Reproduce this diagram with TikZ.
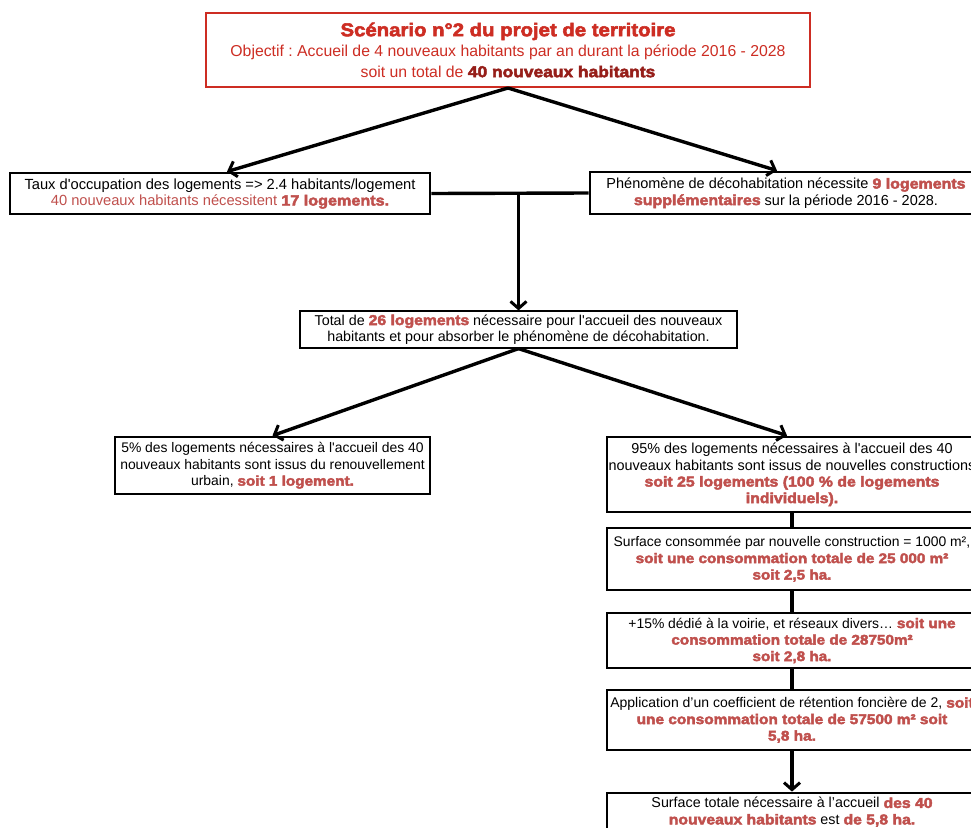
\documentclass[tikz,border=0pt]{standalone}
\usepackage{fontspec}
\setmainfont{Liberation Sans}
\newfontfamily\basefont{Liberation Sans}
\newfontfamily\blk[FakeStretch=1.1,FakeBold=3]{Liberation Sans Bold}
\usetikzlibrary{arrows.meta}
\definecolor{tred}{RGB}{205,45,35}
\definecolor{dred}{RGB}{150,30,25}
\definecolor{hred}{RGB}{192,80,77}
\newcommand{\hl}[1]{{\blk\color{hred}#1}}
\newcommand{\fs}[1]{\basefont\fontsize{#1}{16.5}\selectfont\frenchspacing}
\begin{document}
\begin{tikzpicture}[x=1pt,y=-1pt,
  box/.style={draw=black,line width=2.8pt,align=center,inner sep=0pt},
  conn/.style={line width=3.4pt},
  arr/.style={conn,-{Straight Barb[length=7pt,width=16pt,line width=3pt]}}]
\clip (0,0) rectangle (971,827);
\fill[white] (0,0) rectangle (971,827);
% title
\node[box,draw=tred,line width=2pt,minimum width=604pt,minimum height=74pt,font={\basefont\fontsize{15.8}{20.5}\selectfont\frenchspacing},text=tred] (T) at (508,50)
  {{\blk\fontsize{18.5}{20.5}\selectfont Scénario n°2 du projet de territoire}\\
   Objectif : Accueil de 4 nouveaux habitants par an durant la période 2016 - 2028\\
   soit un total de {\blk\color{dred}40 nouveaux habitants}};
% level 2
\node[box,minimum width=420pt,minimum height=41pt,font=\fs{14.7}] (A) at (220,193.5)
  {Taux d'occupation des logements => 2.4 habitants/logement\\
   {\color{hred}40 nouveaux habitants nécessitent }\hl{17 logements.}};
\node[box,minimum width=392pt,minimum height=42pt,font=\fs{14.5}] (B) at (786,193)
  {Phénomène de décohabitation nécessite \hl{9 logements}\\
   \hl{supplémentaires} sur la période 2016 - 2028.};
% level 3
\node[box,line width=1.2pt,minimum width=437pt,minimum height=37pt,font=\fs{14.3}] (C) at (518.5,329.5)
  {Total de \hl{26 logements} nécessaire pour l'accueil des nouveaux\\
   habitants et pour absorber le phénomène de décohabitation.};
% level 4
\node[box,minimum width=315pt,minimum height=57pt,font=\fs{13.9}] (D) at (272.5,465.5)
  {5\% des logements nécessaires à l'accueil des 40\\
   nouveaux habitants sont issus du renouvellement\\
   urbain, \hl{soit 1 logement.}};
\node[box,minimum width=370pt,minimum height=75pt,font=\fs{14.4}] (E) at (792,474.5)
  {95\% des logements nécessaires à l'accueil des 40\\
   nouveaux habitants sont issus de nouvelles constructions\\
   \hl{soit 25 logements (100 \% de logements}\\
   \hl{individuels).}};
\node[box,minimum width=370pt,minimum height=62pt,font=\fs{13.9}] (F) at (792,559)
  {Surface consommée par nouvelle construction = 1000 m², \\
   \hl{soit une consommation totale de 25 000 m²}\\
   \hl{soit 2,5 ha.}};
\node[box,minimum width=370pt,minimum height=55pt,font=\fs{13.9}] (G) at (792,640.5)
  {+15\% dédié à la voirie, et réseaux divers… \hl{soit une}\\
   \hl{consommation totale de 28750m²}\\
   \hl{soit 2,8 ha.}};
\node[box,minimum width=370pt,minimum height=60pt,font=\fs{14}] (H) at (792,720)
  {Application d’un coefficient de rétention foncière de 2, \hl{soit}\\
   \hl{une consommation totale de 57500 m² soit}\\
   \hl{5,8 ha.}};
\node[box,minimum width=370pt,minimum height=38pt,font=\fs{14.3}] (I) at (792,812)
  {Surface totale nécessaire à l’accueil \hl{des 40}\\
   \hl{nouveaux habitants} est \hl{de 5,8 ha.}};
% connectors
\draw[arr] (T.south) -- ([xshift=7pt]A.north);
\draw[arr] (T.south) -- ([xshift=-9pt]B.north);
\draw[conn] (A.east) -- (B.west);
\coordinate (J) at (C.north |- A.east);
\draw[arr] (J) -- (C.north);
\draw[arr] (C.south) -- (D.north);
\draw[arr] (C.south) -- ([xshift=-5pt]E.north);
\draw[conn] (E.south) -- (F.north);
\draw[conn] (F.south) -- (G.north);
\draw[conn] (G.south) -- (H.north);
\draw[arr] (H.south) -- (I.north);
\end{tikzpicture}
\end{document}
